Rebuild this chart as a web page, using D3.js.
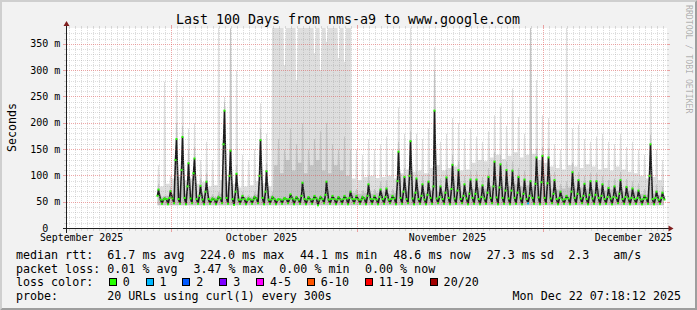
<!DOCTYPE html>
<html lang="en">
<head>
<meta charset="UTF-8">
<title>Last 100 Days from nms-a9 to www.google.com</title>
<style>
  body { margin: 0; background: #f2f2f2; }
  svg { display: block; font-family: "DejaVu Sans Mono", monospace; }
  .grid { shape-rendering: crispEdges; }
</style>
</head>
<body>
<svg width="697" height="310"></svg>
<script src="https://d3js.org/d3.v7.min.js"></script>
<script>

// ---- data (one value per day, starting at firstDay) ----
var firstDay = "2025-09-28";

// median rtt (ms) at 04h, 10h, 16h, 20h of each day
var medBase = [null,55,56,57,56,58,57,56,55,56, 55,57,58,56,55,56,55,57,58,55,
               56,55,56,57,55,56,55,57,56,55, 56,55,57,56,55,57,56,55,56,55,
               57,58,56,57,56,55,58,57,56,58, 57,56,57,58,56,57,58,59,58,57,
               58,57,56,58,59,58,57,56,55,57, 58,57,56,57,58,56,57,58,56,57,
               56,55,57,56,55,55];
var medLow  = [null,47,46,48,47,46,48,47,46,47, 46,48,47,45,47,46,47,48,46,47,
               46,47,48,46,47,46,47,44,48,47, 46,47,46,48,47,46,47,46,47,48,
               46,47,48,46,47,46,47,48,47,46, 47,48,46,47,46,47,48,46,47,46,
               47,46,48,47,46,47,48,46,47,46, 47,48,46,47,46,47,46,48,47,46,
               47,46,47,46,47,null];
var medMid  = [62,55,58,130,111,80,105,62,70,54, 55,160,100,70,55,54,55,100,70,55,
               54,55,56,55,62,55,56,55,64,56, 55,56,58,56,55,62,56,60,60,56,
               90,70,100,68,62,64,80,60,68,75, 72,62,66,66,60,68,80,78,72,72,
               68,66,62,85,88,86,66,58,56,70, 66,62,64,64,62,60,60,66,60,58,
               58,56,100,58,58,null];
var medPeak = [74,57,71,170,174,124,133,81,89,57, 60,224,148,104,62,57,60,168,109,60,
               56,58,65,60,87,60,62,60,89,62, 60,62,70,62,60,84,62,74,76,62,
               146,98,166,95,84,89,224,80,97,121, 111,84,93,93,82,98,127,122,111,110,
               98,93,90,135,138,135,92,70,62,107, 92,85,90,90,84,77,80,92,79,76,
               72,62,160,70,68,null];

// smoke: outer (max ping) top, between spikes and at the spike
var smHaze = [88,80,85,95,98,92,95,85,88, 80,82,92,88,85,78,80,82,90,86,80,
              400,400,400,400,400,400,400,400,400,400,400,400,400,
              95,92,98,100,96,98,100,95,105,
              112,108,110,105,115,120,110,115,118,110,112,
              125,130,128,135,140,132,138,145,135,140,142,
              130,125,118,115,112,120,118,115,122,118,112,115,110,118,112,108,105,
              100,95,98,92,85];
var smHi   = [120,279,100,282,250,190,200,130,165,130, 400,250,400,300,140,130,150,238,180,400,
              400,310,400,282,400,400,333,301,355,400, 324,317,400,
              150,140,170,150,160,175,150,230,180,
              400,180,170,190,345,165,180,210,200,170,190,
              175,165,185,215,230,195,266,212,180,400,282,
              215,210,160,150,400,190,197,170,165,175,180,165,160,180,155,165,
              150,140,279,150,130,null];
// smoke: inner (denser) band top, between spikes and at the spike
var smCore   = [64,60,62,66,68,66,66,62,64,60, 60,66,64,62,60,60,60,64,62,62,
                120,105,130,110,125,105,120,130,110,105,120,110,100,
                68,66,68,66,68,70,66,68,70,70, 68,70,68,72,70,72,74,72,70,70,
                75,78,76,80,82,78,80,84,80,82, 80,78,80,76,74,76,78,76,78,76,
                74,76,72,74,72,70,72,70,
                66,64,66,64,62];
var smCoreHi = [85,62,80,200,195,150,155,95,105,65, 70,240,380,120,70,64,70,190,125,70,
                170,150,190,160,200,150,170,185,200,160, 150,175,150,
                75,72,100,75,90,92,75,165,115,
                185,110,100,105,300,95,112,140,128,100,110,
                110,98,115,145,140,128,128,115,110,400,152,
                155,152,108,85,90,125,108,100,106,106,100,92,95,108,94,90,
                86,75,178,84,80,null];
var smokeFloor = 44;
var lossOneDays = [62];   // days with a 1/20 loss point (at the dip)

// axes
var yTicks = [0, 50, 100, 150, 200, 250, 300, 350];
var monthLines = ["2025-10-01", "2025-11-01", "2025-12-02"];
var monthLabelAt = ["2025-09-16", "2025-10-16", "2025-11-16", "2025-12-17"];
var monthLabels = ["September 2025", "October 2025", "November 2025", "December 2025"];

// legend
var medianStats = ["median rtt:", "61.7 ms avg", "224.0 ms max", "44.1 ms min", "48.6 ms now", "27.3 ms", "sd", "2.3", "am/s"];
var lossStats = ["packet loss:", "0.01 % avg", "3.47 % max", "0.00 % min", "0.00 % now"];
var lossLabels = ["0", "1", "2", "3", "4-5", "6-10", "11-19", "20/20"];
var lossColors = ["#26ff00", "#00b8ff", "#0059ff", "#7e00ff", "#ff00ff", "#ff5500", "#ff0000", "#a10000"];

// ---- layout ----
var svg = d3.select("svg"),
    W = 697, H = 310;

var parse = d3.utcParse("%Y-%m-%d");
var x = d3.scaleUtc()
    .domain([new Date(Date.UTC(2025, 8, 13, 12)), new Date(Date.UTC(2025, 11, 22, 12))])
    .range([66.5, 666.5]);
var y = d3.scaleLinear().domain([0, 380]).range([228.5, 28.5]);
function snap(v) { return Math.floor(v) + 0.5; }

// background + 3d border
svg.append("rect").attr("width", W).attr("height", H).attr("fill", "#f2f2f2");
svg.append("path").attr("fill", "#cfcfcf")
    .attr("d", "M0," + H + "L2," + (H - 2) + "L2,2L" + (W - 2) + ",2L" + W + ",0L0,0Z");
svg.append("path").attr("fill", "#9e9e9e")
    .attr("d", "M2," + (H - 2) + "L" + (W - 2) + "," + (H - 2) + "L" + (W - 2) + ",2L" + W + ",0L" + W + "," + H + "L0," + H + "Z");

// canvas
svg.append("rect").attr("x", 67).attr("y", 28).attr("width", 600).attr("height", 200).attr("fill", "#fff");

svg.append("defs").append("clipPath").attr("id", "clip")
  .append("rect").attr("x", 66.5).attr("y", 28).attr("width", 600).attr("height", 200.5);

var g = svg.append("g").attr("clip-path", "url(#clip)");

// ---- series ----
var t0 = parse(firstDay);
function at(k, h) { return d3.utcHour.offset(t0, k * 24 + h); }

var medPts = [], outerPts = [], corePts = [];
medPeak.forEach(function (p, k) {
  var slots = [[4, medBase[k]], [10, medLow[k]], [16, medMid[k]], [20, medPeak[k]]];
  slots.forEach(function (s) { if (s[1] != null) medPts.push({t: at(k, s[0]), v: s[1]}); });
  if (medBase[k] != null) { outerPts.push({t: at(k, 2), v: smHaze[k]}); corePts.push({t: at(k, 2), v: smCore[k]}); }
  if (medLow[k] != null) { outerPts.push({t: at(k, 10), v: smHaze[k]}); corePts.push({t: at(k, 10), v: smCore[k]}); }
  if (medMid[k] != null) { outerPts.push({t: at(k, 16), v: smHaze[k]}); corePts.push({t: at(k, 16), v: smCore[k]}); }
  if (medPeak[k] != null) {
    outerPts.push({t: at(k, 18), v: smHi[k]}, {t: at(k, 22), v: smHi[k]});
    corePts.push({t: at(k, 18), v: smCoreHi[k]}, {t: at(k, 22), v: smCoreHi[k]});
  }
});

var area = d3.area()
    .x(function (d) { return x(d.t); })
    .y0(y(smokeFloor))
    .y1(function (d) { return y(d.v); });

g.append("path").datum(outerPts).attr("fill", "#dedede").attr("d", area);
g.append("path").datum(corePts).attr("fill", "#c3c3c3").attr("d", area);

var line = d3.line()
    .x(function (d) { return x(d.t); })
    .y(function (d) { return y(d.v); });

g.append("path").datum(medPts)
    .attr("fill", "none").attr("stroke", "#1c1c1c").attr("stroke-width", 1.6)
    .attr("stroke-linejoin", "miter").attr("stroke-miterlimit", 2)
    .attr("d", line);

g.selectAll(".med").data(medPts).enter().append("rect")
    .attr("x", function (d) { return x(d.t) - 1; })
    .attr("y", function (d) { return y(d.v) - 1; })
    .attr("width", 2).attr("height", 2)
    .attr("fill", lossColors[0]);

g.selectAll(".loss1").data(lossOneDays).enter().append("rect")
    .attr("x", function (k) { return x(at(k, 10)) - 1; })
    .attr("y", function (k) { return y(medLow[k]) - 1; })
    .attr("width", 2).attr("height", 2)
    .attr("fill", lossColors[1]);

// ---- grid (drawn over the data, like rrdtool) ----
var grid = svg.append("g").attr("class", "grid");
var majorDates = monthLines.map(parse);
var days = d3.utcDay.range(x.domain()[0], x.domain()[1]).filter(function (d) {
  return !majorDates.some(function (m) { return +m === +d; });
});

function vline(d, col, op, tick) {
  var px = snap(x(d));
  grid.append("line").attr("x1", px).attr("x2", px).attr("y1", 229).attr("y2", 28)
      .attr("stroke", col).attr("stroke-opacity", op).attr("stroke-dasharray", "1,1");
  grid.append("line").attr("x1", px).attr("x2", px).attr("y1", 28 - tick).attr("y2", 28)
      .attr("stroke", col).attr("stroke-opacity", op);
  grid.append("line").attr("x1", px).attr("x2", px).attr("y1", 229).attr("y2", 229 + tick)
      .attr("stroke", col).attr("stroke-opacity", op);
}
function hline(v, col, op, tick) {
  var py = snap(y(v));
  grid.append("line").attr("x1", 67).attr("x2", 667).attr("y1", py).attr("y2", py)
      .attr("stroke", col).attr("stroke-opacity", op).attr("stroke-dasharray", "1,1");
  grid.append("line").attr("x1", 66 - tick).attr("x2", 66).attr("y1", py).attr("y2", py)
      .attr("stroke", col).attr("stroke-opacity", op);
  grid.append("line").attr("x1", 667).attr("x2", 667 + tick).attr("y1", py).attr("y2", py)
      .attr("stroke", col).attr("stroke-opacity", op);
}

days.forEach(function (d) { vline(d, "#8f8f8f", 0.3, 2); });
d3.range(10, 380, 10).filter(function (v) { return v % 50; })
  .forEach(function (v) { hline(v, "#8f8f8f", 0.3, 2); });
majorDates.forEach(function (d) { vline(d, "#de4f4f", 0.5, 3); });
yTicks.slice(1).forEach(function (v) { hline(v, "#de4f4f", 0.5, 3); });

// ---- axes ----
svg.append("line").attr("class", "grid").attr("x1", 62.5).attr("x2", 671).attr("y1", 228.5).attr("y2", 228.5)
    .attr("stroke", "#1f1f1f");
svg.append("line").attr("class", "grid").attr("x1", 66.5).attr("x2", 66.5).attr("y1", 232.5).attr("y2", 24)
    .attr("stroke", "#1f1f1f");
svg.append("path").attr("fill", "#801f1f").attr("d", "M63.5,26L69.5,26L66.5,21Z");
svg.append("path").attr("fill", "#801f1f").attr("d", "M668.5,225.5L668.5,231.5L673.5,228.5Z");

var yl = svg.append("g").attr("font-size", "10px").attr("fill", "#000");
yTicks.forEach(function (v) {
  yl.append("text").attr("x", 48.2).attr("y", y(v) + 3.2).attr("text-anchor", "end").text(v);
  if (v) yl.append("text").attr("x", 54.2).attr("y", y(v) + 3.2).text("m");
});

svg.append("g").attr("font-size", "9.9px").selectAll("text")
    .data(monthLabels).enter().append("text")
    .attr("x", function (d, i) { return x(parse(monthLabelAt[i])); })
    .attr("y", 240.8)
    .attr("text-anchor", "middle")
    .text(function (d) { return d; });

// title, axis title, watermark
svg.append("text").attr("x", 348).attr("y", 23.8).attr("text-anchor", "middle")
    .attr("font-size", "13.3px").text("Last 100 Days from nms-a9 to www.google.com");
svg.append("text").attr("transform", "translate(15.5,127.5) rotate(-90)")
    .attr("text-anchor", "middle").attr("font-size", "11.6px").text("Seconds");
svg.append("text").attr("transform", "translate(685.5,5) rotate(90)")
    .attr("font-size", "8.2px").attr("fill", "#000").attr("fill-opacity", 0.3)
    .text("RRDTOOL / TOBI OETIKER");

// ---- legend ----
var lg = svg.append("g").attr("font-size", "11.66px").attr("fill", "#000");
var row1x = [16, 107.3, 200, 300, 393.3, 486.7, 540, 568.3, 613.3];
var row2x = [16, 107.3, 193.5, 279.3, 365];
medianStats.forEach(function (s, i) { lg.append("text").attr("x", row1x[i]).attr("y", 259).text(s); });
lossStats.forEach(function (s, i) { lg.append("text").attr("x", row2x[i]).attr("y", 272.5).text(s); });

lg.append("text").attr("x", 16).attr("y", 286).text("loss color:");
var bx = 108.7;
lossLabels.forEach(function (s, i) {
  lg.append("rect").attr("x", Math.round(bx) + 0.5).attr("y", 278.5).attr("width", 7).attr("height", 7)
      .attr("fill", lossColors[i]).attr("stroke", "#000");
  lg.append("text").attr("x", bx + 14).attr("y", 286).text(s);
  bx += 14 + s.length * 7.02 + 15.8;
});

lg.append("text").attr("x", 16).attr("y", 299.5).text("probe:");
lg.append("text").attr("x", 107.3).attr("y", 299.5).text("20 URLs using curl(1) every 300s");
lg.append("text").attr("x", 681).attr("y", 299.5).attr("text-anchor", "end").text("Mon Dec 22 07:18:12 2025");

</script>
</body>
</html>
